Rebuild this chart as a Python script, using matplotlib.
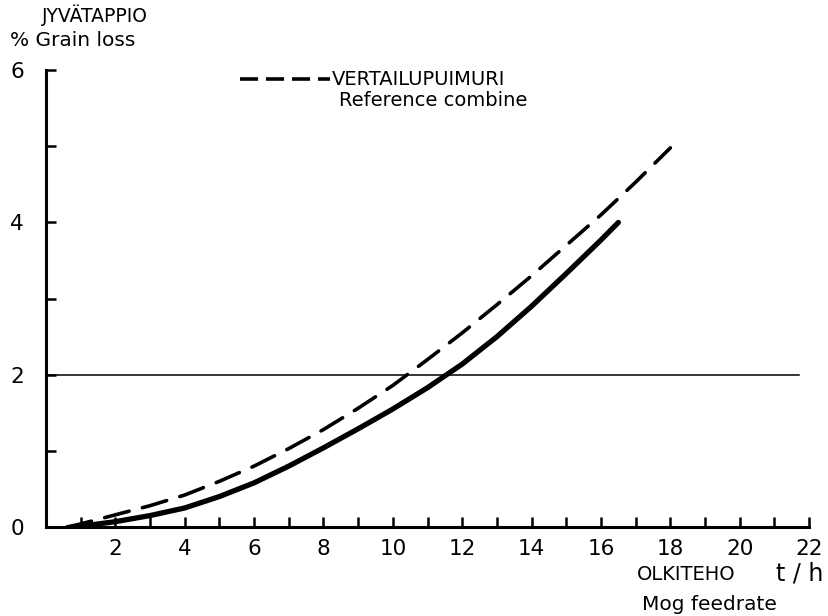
import matplotlib
matplotlib.use('Agg')
import matplotlib.pyplot as plt
from matplotlib.ticker import MultipleLocator

# olkiteho (t/h) vs jyvätappio (%)
ref_x = [0.6, 1, 2, 3, 4, 5, 6, 7, 8, 9, 10, 11, 12, 13, 14, 15, 16, 17, 18]
ref_y = [0.0, 0.04, 0.16, 0.28, 0.42, 0.60, 0.80, 1.03, 1.28, 1.56, 1.86,
         2.20, 2.55, 2.92, 3.30, 3.70, 4.10, 4.53, 4.98]

test_x = [0.9, 1, 2, 3, 4, 5, 6, 7, 8, 9, 10, 11, 12, 13, 14, 15, 16, 16.5]
test_y = [0.0, 0.01, 0.07, 0.15, 0.25, 0.40, 0.58, 0.80, 1.04, 1.29, 1.55,
          1.83, 2.14, 2.50, 2.90, 3.33, 3.77, 4.0]

limit_y = 2
x_labels = [2, 4, 6, 8, 10, 12, 14, 16, 18, 20, 22]
y_labels = [0, 2, 4, 6]

plt.rcParams['font.family'] = ['DejaVu Sans']

fig = plt.figure(figsize=(8.29, 6.16), dpi=100)
ax = fig.add_axes([0.0555, 0.1445, 0.9205, 0.7415])

ax.plot(ref_x, ref_y, color='black', lw=2.6, ls=(0, (7, 3.8)),
        dash_capstyle='round', solid_capstyle='round')
ax.plot(test_x, test_y, color='black', lw=3.8, solid_capstyle='round',
        solid_joinstyle='round')
ax.plot([0, 21.7], [limit_y, limit_y], color='black', lw=1.1)

ax.set_xlim(0, 22)
ax.set_ylim(0, 6)
ax.set_xticks(x_labels)
ax.xaxis.set_minor_locator(MultipleLocator(1))
ax.set_yticks(y_labels)
ax.yaxis.set_minor_locator(MultipleLocator(1))

for s in ['top', 'right']:
    ax.spines[s].set_visible(False)
for s in ['left', 'bottom']:
    ax.spines[s].set_linewidth(2.2)

ax.tick_params(which='both', direction='in', width=1.8, length=7)
ax.tick_params(axis='x', which='major', pad=9, labelsize=15.5)
ax.tick_params(axis='y', which='major', pad=16, labelsize=15.5)

# legend drawn by hand like the original
ax.plot([5.6, 8.2], [5.88, 5.88], color='black', lw=2.6, ls=(0, (5, 2.2)),
        clip_on=False)
ax.text(8.25, 5.88, 'VERTAILUPUIMURI', fontsize=14, va='center', ha='left')
ax.text(8.45, 5.60, 'Reference combine', fontsize=14, va='center', ha='left')

fig.text(0.051, 0.975, 'JYVÄTAPPIO', fontsize=13.5, va='center', ha='left')
fig.text(0.012, 0.934, '% Grain loss', fontsize=14.5, va='center', ha='left')
fig.text(0.768, 0.067, 'OLKITEHO', fontsize=14, va='center', ha='left')
fig.text(0.936, 0.069, 't / h', fontsize=17, va='center', ha='left')
fig.text(0.774, 0.018, 'Mog feedrate', fontsize=14.5, va='center', ha='left')

fig.savefig('out.png', dpi=100)
